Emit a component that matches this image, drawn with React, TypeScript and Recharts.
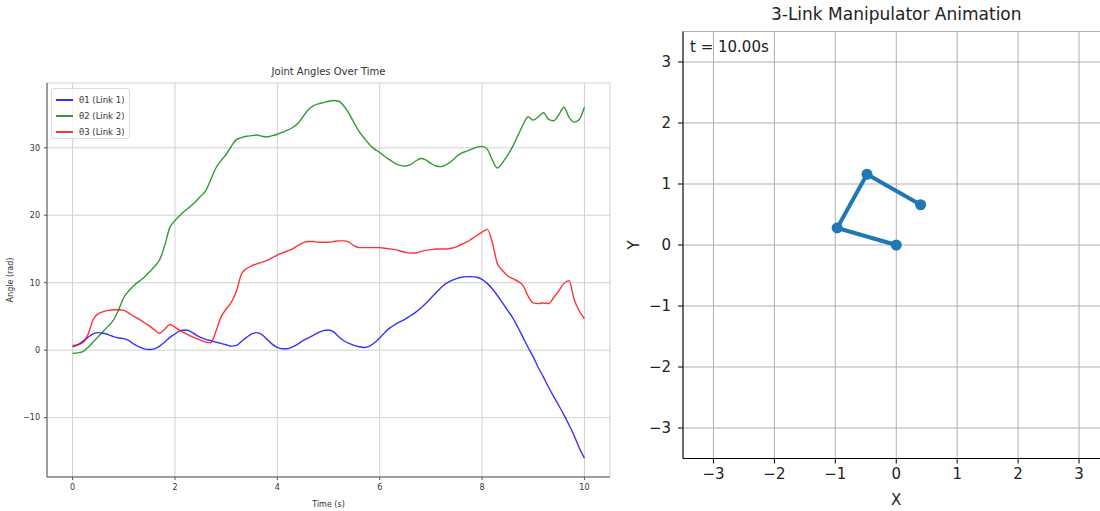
import React from 'react';
import {
  LineChart,
  Line,
  XAxis,
  YAxis,
  CartesianGrid,
} from 'recharts';

const FONT = '"DejaVu Sans", sans-serif';

// time axis, 0..10 s in 0.1 s steps
const time = [
  0, 0.1, 0.2, 0.3, 0.4, 0.5, 0.6, 0.7, 0.8, 0.9,
  1, 1.1, 1.2, 1.3, 1.4, 1.5, 1.6, 1.7, 1.8, 1.9,
  2, 2.1, 2.2, 2.3, 2.4, 2.5, 2.6, 2.7, 2.8, 2.9,
  3, 3.1, 3.2, 3.3, 3.4, 3.5, 3.6, 3.7, 3.8, 3.9,
  4, 4.1, 4.2, 4.3, 4.4, 4.5, 4.6, 4.7, 4.8, 4.9,
  5, 5.1, 5.2, 5.3, 5.4, 5.5, 5.6, 5.7, 5.8, 5.9,
  6, 6.1, 6.2, 6.3, 6.4, 6.5, 6.6, 6.7, 6.8, 6.9,
  7, 7.1, 7.2, 7.3, 7.4, 7.5, 7.6, 7.7, 7.8, 7.9,
  8, 8.1, 8.2, 8.3, 8.4, 8.5, 8.6, 8.7, 8.8, 8.9,
  9, 9.1, 9.2, 9.3, 9.4, 9.5, 9.6, 9.7, 9.8, 9.9,
  10,
];

const theta1 = [
  0.5, 0.8, 1.3, 1.9, 2.4, 2.6, 2.5, 2.3, 2.0, 1.8,
  1.7, 1.4, 0.9, 0.5, 0.2, 0.1, 0.2, 0.6, 1.2, 1.9,
  2.4, 2.9, 3.0, 2.8, 2.3, 1.9, 1.6, 1.4, 1.2, 1.0,
  0.8, 0.6, 0.7, 1.3, 1.9, 2.4, 2.6, 2.3, 1.6, 0.9,
  0.4, 0.2, 0.2, 0.5, 0.9, 1.4, 1.8, 2.2, 2.6, 2.9,
  3.0, 2.7, 2.0, 1.4, 1.0, 0.7, 0.5, 0.4, 0.6, 1.1,
  1.8, 2.6, 3.3, 3.8, 4.2, 4.6, 5.1, 5.6, 6.2, 6.9,
  7.7, 8.5, 9.3, 9.9, 10.3, 10.6, 10.8, 10.9, 10.9, 10.8,
  10.5, 9.9, 9.1, 8.1, 7.0, 5.9, 4.8, 3.4, 1.9, 0.4,
  -1.0, -2.6, -4.0, -5.5, -6.9, -8.2, -9.6, -11.1, -12.7, -14.5,
  -16.0,
];

const theta2 = [
  -0.5, -0.4, -0.2, 0.4, 1.2, 2.0, 2.8, 3.6, 4.5, 6.0,
  7.8, 8.8, 9.6, 10.2, 10.8, 11.6, 12.4, 13.4, 15.5, 18.2,
  19.2, 20.0, 20.7, 21.3, 22.0, 22.8, 23.6, 25.3, 27.0, 28.1,
  29.0, 30.2, 31.2, 31.5, 31.7, 31.8, 31.9, 31.7, 31.6, 31.8,
  32.0, 32.3, 32.6, 33.0, 33.6, 34.6, 35.6, 36.2, 36.5, 36.7,
  36.9, 37.0, 36.9, 36.2, 35.1, 33.7, 32.4, 31.4, 30.5, 29.8,
  29.3, 28.7, 28.2, 27.7, 27.4, 27.3, 27.5, 28.0, 28.4, 28.2,
  27.7, 27.3, 27.2, 27.5, 28.0, 28.7, 29.2, 29.5, 29.8, 30.1,
  30.2, 29.8, 28.2, 27.0, 27.8, 28.9, 30.2, 31.8, 33.4, 34.6,
  34.1, 34.6, 35.2, 34.2, 34.0, 34.9, 36.0, 34.5, 33.8, 34.2,
  36.0,
];

const theta3 = [
  0.7, 0.8, 1.1, 2.3, 4.5, 5.4, 5.7, 5.9, 6.0, 6.0,
  5.9, 5.5, 5.0, 4.6, 4.1, 3.6, 3.0, 2.5, 3.1, 3.8,
  3.4, 2.9, 2.5, 2.1, 1.8, 1.5, 1.2, 1.1, 2.8, 4.9,
  6.1, 7.1, 8.7, 11.3, 12.1, 12.5, 12.8, 13.0, 13.3, 13.7,
  14.1, 14.4, 14.7, 15.0, 15.5, 15.9, 16.1, 16.1, 16.0, 16.0,
  16.0, 16.1, 16.2, 16.2, 16.0, 15.5, 15.2, 15.2, 15.2, 15.2,
  15.2, 15.1, 15.0, 14.9, 14.7, 14.5, 14.4, 14.4, 14.6, 14.8,
  14.9, 15.0, 15.0, 15.0, 15.1, 15.3, 15.7, 16.0, 16.5, 17.0,
  17.5, 17.9, 16.0, 12.8, 11.8, 11.0, 10.6, 10.2, 9.6, 8.0,
  7.0, 6.9, 7.0, 6.9, 7.8, 8.8, 9.9, 10.3, 7.5, 5.8,
  4.7,
];

const angleXTicks = [0, 2, 4, 6, 8, 10];
const angleYTicks = [-10, 0, 10, 20, 30];

const seriesNames = ['θ1 (Link 1)', 'θ2 (Link 2)', 'θ3 (Link 3)'];
const seriesColors = ['#0000ff', '#008000', '#ff0000'];

// joint positions of the arm at t = 10 s
const jointX = [0, -0.97, -0.48, 0.4];
const jointY = [0, 0.28, 1.16, 0.66];
const armTicks = [-3, -2, -1, 0, 1, 2, 3];

const angleData = time.map((t, i) => ({
  t,
  theta1: theta1[i],
  theta2: theta2[i],
  theta3: theta3[i],
}));

const armData = jointX.map((x, i) => ({ x, y: jointY[i] }));

const fmt = (v: number) => (v < 0 ? `\u2212${Math.abs(v)}` : `${v}`);

const AngleLegend = () => (
  <div
    style={{
      position: 'absolute',
      left: 51,
      top: 88,
      width: 79,
      height: 51,
      border: '1px solid #dddddd',
      borderRadius: 3,
      background: 'rgba(255,255,255,0.8)',
      fontFamily: FONT,
      fontSize: 8.5,
      color: '#333',
      boxSizing: 'border-box',
      paddingTop: 3,
    }}
  >
    {seriesNames.map((name, i) => (
      <div key={name} style={{ display: 'flex', alignItems: 'center', height: 16 }}>
        <span
          style={{
            display: 'inline-block',
            width: 17,
            height: 2,
            marginLeft: 4,
            marginRight: 6,
            background: seriesColors[i],
            opacity: 0.8,
          }}
        />
        {name}
      </div>
    ))}
  </div>
);

export default function App() {
  return (
    <div
      style={{
        position: 'absolute',
        left: 0,
        top: 0,
        width: 1100,
        height: 511,
        overflow: 'hidden',
        background: '#fff',
        fontFamily: FONT,
      }}
    >
      {/* left: joint angles */}
      <div style={{ position: 'absolute', left: 0, top: 0 }}>
        <LineChart
          width={620}
          height={511}
          data={angleData}
          margin={{ top: 83, right: 10, bottom: 0, left: 0 }}
        >
          <CartesianGrid stroke="#d0d0d0" strokeWidth={1} />
          <XAxis
            dataKey="t"
            type="number"
            domain={[-0.5, 10.5]}
            ticks={angleXTicks}
            tickFormatter={fmt}
            height={34}
            stroke="#555"
            tickSize={3}
            tickMargin={4}
            tick={{ fontSize: 8, fill: '#333', fontFamily: FONT }}
            label={{ value: 'Time (s)', position: 'insideBottom', offset: 4, fontSize: 8, fill: '#333', fontFamily: FONT }}
          />
          <XAxis xAxisId="top" orientation="top" dataKey="t" type="number" domain={[-0.5, 10.5]} height={0} tick={false} tickLine={false} stroke="#555" />
          <YAxis
            type="number"
            domain={[-18.8, 39.6]}
            ticks={angleYTicks}
            tickFormatter={fmt}
            width={47}
            stroke="#555"
            tickSize={3}
            tickMargin={4}
            tick={{ fontSize: 8, fill: '#333', fontFamily: FONT }}
            label={{ value: 'Angle (rad)', angle: -90, position: 'insideLeft', offset: 10, fontSize: 8, fill: '#333', fontFamily: FONT, style: { textAnchor: 'middle' } }}
          />
          <YAxis yAxisId="right" orientation="right" domain={[-18.8, 39.6]} width={0} tick={false} tickLine={false} stroke="#555" />
          <Line type="monotone" dataKey="theta1" stroke="#0000ff" strokeOpacity={0.8} strokeWidth={1.4} dot={false} isAnimationActive={false} />
          <Line type="monotone" dataKey="theta2" stroke="#008000" strokeOpacity={0.8} strokeWidth={1.4} dot={false} isAnimationActive={false} />
          <Line type="monotone" dataKey="theta3" stroke="#ff0000" strokeOpacity={0.8} strokeWidth={1.4} dot={false} isAnimationActive={false} />
        </LineChart>
        <div
          style={{
            position: 'absolute',
            left: 47,
            width: 563,
            top: 66,
            textAlign: 'center',
            fontSize: 10,
            color: '#333',
          }}
        >
          Joint Angles Over Time
        </div>
        <AngleLegend />
      </div>

      {/* right: manipulator snapshot */}
      <div style={{ position: 'absolute', left: 620, top: 0 }}>
        <LineChart
          width={500}
          height={511}
          data={armData}
          margin={{ top: 31.5, right: 10.5, bottom: 0, left: 0 }}
        >
          <CartesianGrid stroke="#b0b0b0" strokeWidth={1} />
          <XAxis
            dataKey="x"
            type="number"
            domain={[-3.5, 3.5]}
            ticks={armTicks}
            tickFormatter={fmt}
            allowDataOverflow
            height={52.5}
            stroke="#000"
            tickSize={5}
            tickMargin={5}
            tick={{ fontSize: 15, fill: '#222', fontFamily: FONT }}
            label={{ value: 'X', position: 'insideBottom', offset: 6, fontSize: 15, fill: '#222', fontFamily: FONT }}
          />
          <XAxis xAxisId="top" orientation="top" dataKey="x" type="number" domain={[-3.5, 3.5]} height={0} tick={false} tickLine={false} stroke="#000" />
          <YAxis
            dataKey="y"
            type="number"
            domain={[-3.5, 3.5]}
            ticks={armTicks}
            tickFormatter={fmt}
            allowDataOverflow
            width={63}
            stroke="#000"
            tickSize={5}
            tickMargin={7}
            tick={{ fontSize: 15, fill: '#222', fontFamily: FONT }}
            label={{ value: 'Y', angle: -90, position: 'insideLeft', offset: 14, fontSize: 15, fill: '#222', fontFamily: FONT, style: { textAnchor: 'middle' } }}
          />
          <Line
            type="linear"
            dataKey="y"
            stroke="#1f77b4"
            strokeWidth={4}
            dot={{ r: 5.5, fill: '#1f77b4', stroke: '#1f77b4', strokeWidth: 0 }}
            isAnimationActive={false}
          />
        </LineChart>
        <div
          style={{
            position: 'absolute',
            left: 63,
            width: 426.5,
            top: 4,
            textAlign: 'center',
            fontSize: 17,
            color: '#222',
          }}
        >
          3-Link Manipulator Animation
        </div>
        <div style={{ position: 'absolute', left: 70, top: 38, fontSize: 15, color: '#222' }}>
          t = 10.00s
        </div>
      </div>
    </div>
  );
}
